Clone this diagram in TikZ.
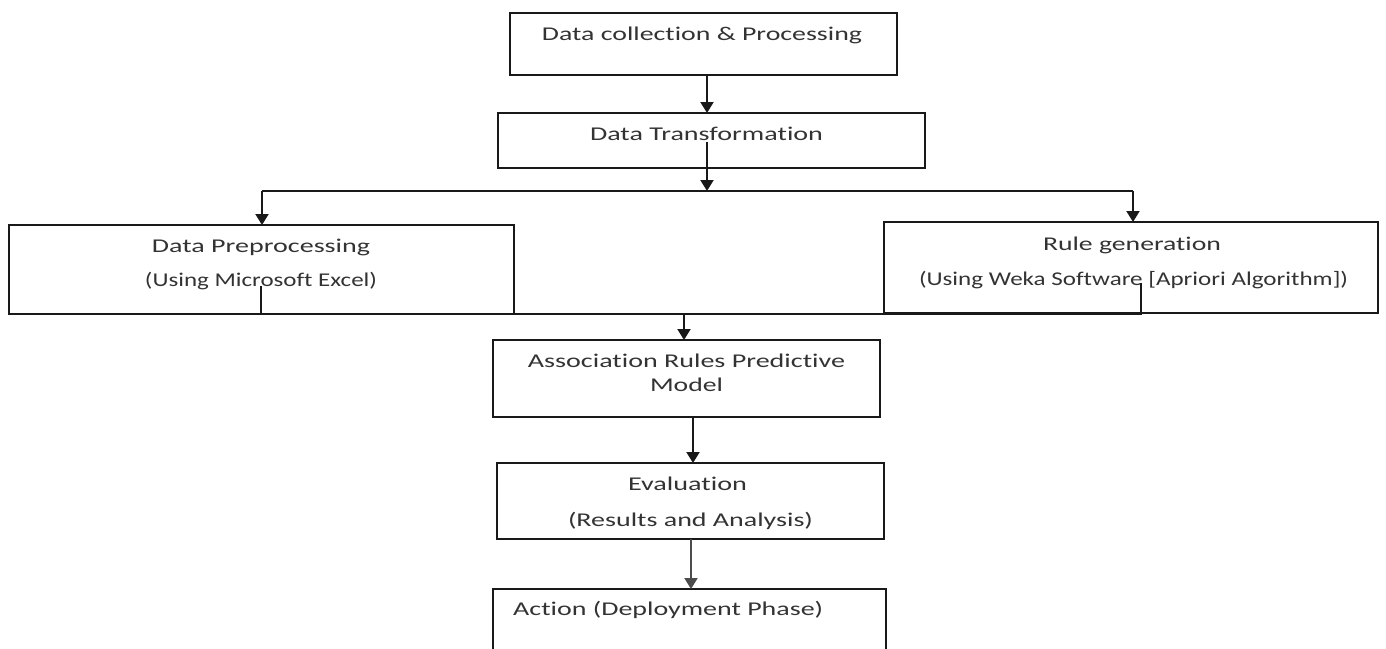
\documentclass[tikz,border=0pt]{standalone}
\usepackage{fontspec}
\usepackage{graphicx}
\setmainfont{Carlito}[Ligatures=NoCommon]
\usetikzlibrary{arrows.meta}
\newcommand{\fitw}[2]{\resizebox{#1}{\height}{#2}}
\tikzset{
  box/.style={draw=black!90, line width=2pt, inner sep=0pt, outer sep=0pt, fill=none},
  lbl/.style={inner sep=0pt, text=black!80, font=\fontsize{19.5}{22}\selectfont},
  conn/.style={draw=black!90, line width=2pt},
  arr/.style={conn, -{Triangle[width=13pt,length=11pt]}}
}
\begin{document}
\begin{tikzpicture}[x=1pt,y=-1pt]
\useasboundingbox (0,0) rectangle (1386,648);
\clip (0,0) rectangle (1386,648);
% boxes
\node[box, minimum width=387pt, minimum height=62pt] (b1) at (703.5,44) {};
\node[box, minimum width=427pt, minimum height=55pt] (b2) at (711.5,140.5) {};
\node[box, minimum width=505pt, minimum height=89pt] (b3) at (261.5,269.5) {};
\node[box, minimum width=494pt, minimum height=91pt] (b4) at (1131,267.5) {};
\node[box, minimum width=387pt, minimum height=77pt] (b5) at (686.5,378.5) {};
\node[box, minimum width=387pt, minimum height=76pt] (b6) at (690.5,501) {};
\node[box, minimum width=393pt, minimum height=111pt] (b7) at (689.5,644.5) {};
% texts
\node[lbl] (t1) at (702,35) {\fitw{320pt}{Data collection \& Processing}};
\node[lbl] (t2) at (706.5,134) {\fitw{233pt}{Data Transformation}};
\node[lbl] (t3a) at (261,247) {\fitw{218pt}{Data Preprocessing}};
\node[lbl] (t3b) at (261,281) {\fitw{232pt}{(Using Microsoft Excel)}};
\node[lbl] (t4a) at (1132,245) {\fitw{178pt}{Rule generation}};
\node[lbl] (t4b) at (1133.5,280) {\fitw{429pt}{(Using Weka Software [Apriori Algorithm])}};
\node[lbl] (t5a) at (686.5,361) {\fitw{317pt}{Association Rules Predictive}};
\node[lbl] (t5b) at (686.5,385) {\fitw{73pt}{Model}};
\node[lbl] (t6a) at (687.5,484) {\fitw{119pt}{Evaluation}};
\node[lbl] (t6b) at (690.5,521) {\fitw{245pt}{(Results and Analysis)}};
\node[lbl, anchor=west] (t7) at (513,610) {\fitw{310pt}{Action (Deployment Phase)}};
% coordinates
\coordinate (j0) at (707,142);
\coordinate (j) at (707,191);
\coordinate (jl) at (262,191);
\coordinate (jr) at (1133,191);
\coordinate (s1) at (261,286);
\coordinate (s2) at (261,314);
\coordinate (s3) at (1141,314);
\coordinate (s4) at (1141,283);
\coordinate (m) at (684,314);
\coordinate (e1) at (693,0);
\coordinate (e2) at (691,0);
% connectors
\draw[arr] (b1.south -| j) -- (b2.north -| j);
\draw[arr] (j0) -- (j);
\draw[conn] (jl) -- (jr);
\draw[arr] (jl) -- (b3.north -| jl);
\draw[arr] (jr) -- (b4.north -| jr);
\draw[conn] (s1) -- (s2) -- (s3) -- (s4);
\draw[arr] (m) -- (b5.north -| m);
\draw[arr] (b5.south -| e1) -- (b6.north -| e1);
\draw[arr, draw=black!70] (b6.south -| e2) -- (b7.north -| e2);
\end{tikzpicture}
\end{document}
